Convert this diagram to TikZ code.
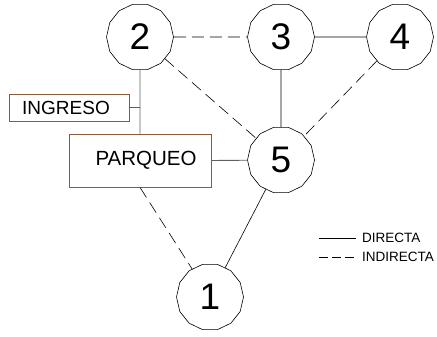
\documentclass[tikz,border=0pt]{standalone}
\usepackage{fontspec}
\setmainfont{Liberation Sans}
\usetikzlibrary{shapes.geometric}
\definecolor{boxbrown}{HTML}{8B5A3C}
\definecolor{linkgray}{HTML}{606060}
\begin{document}
\begin{tikzpicture}[x=1pt,y=-1pt,
  station/.style={draw=black,line width=0.6pt,regular polygon,regular polygon sides=14,minimum size=67pt,inner sep=0pt,font=\fontsize{37}{37}\selectfont},
  areabox/.style={draw=boxbrown,line width=0.8pt,inner sep=0pt},
  direct/.style={draw=black,line width=0.6pt},
  indirect/.style={draw=black,line width=0.6pt,dash pattern=on 12pt off 6pt},
  link/.style={draw=linkgray,line width=0.9pt}]
\useasboundingbox (0,0) rectangle (437,337);
\node[station] (n2) at (140,37) {2};
\node[station] (n3) at (281,37) {3};
\node[station] (n4) at (400,37) {4};
\node[station] (n5) at (281,160) {5};
\node[station] (n1) at (210,297) {1};
\node[areabox,minimum width=120pt,minimum height=27pt] (ing) at (69,107.5) {};
\node[font=\fontsize{19}{19}\selectfont] (ingt) at (66,107.5) {INGRESO};
\node[areabox,minimum width=142pt,minimum height=53pt] (par) at (140,160.5) {};
\node[font=\fontsize{20.5}{20.5}\selectfont] (part) at (146,160.5) {PARQUEO};
\coordinate (jn) at (140,107.5);
\draw[link] (n2.south) -- (par.north);
\draw[link] (ing.east) -- (jn);
\draw[link] (par.east) -- (n5);
\draw[indirect] (n2) -- (n3);
\draw[direct] (n3) -- (n4);
\draw[direct] (n3) -- (n5);
\draw[indirect] (n2) -- (n5);
\draw[indirect] (n4) -- (n5);
\draw[direct] (n5) -- (n1);
\draw[indirect] (par.south) -- (n1);
\coordinate (l1a) at (319,238);
\coordinate (l1b) at (356,238);
\coordinate (l2a) at (319,257);
\coordinate (l2b) at (356,257);
\draw[direct] (l1a) -- (l1b);
\draw[draw=black,line width=0.6pt,dash pattern=on 9pt off 4pt] (l2a) -- (l2b);
\node[anchor=west,inner sep=0pt,font=\fontsize{13.5}{13.5}\selectfont] (ld) at (362,238) {DIRECTA};
\node[anchor=west,inner sep=0pt,font=\fontsize{13.5}{13.5}\selectfont] (li) at (362,257) {INDIRECTA};
\end{tikzpicture}
\end{document}
